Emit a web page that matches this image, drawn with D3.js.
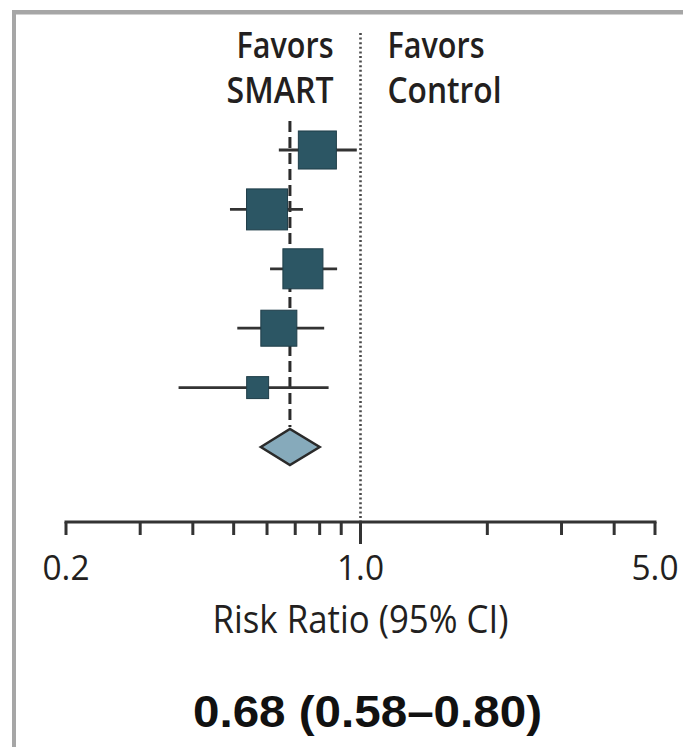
<!DOCTYPE html>
<html>
<head>
<meta charset="utf-8">
<script src="https://cdn.jsdelivr.net/npm/d3@7"></script>
<style>
  html, body { margin: 0; padding: 0; background: #fff; }
  svg { display: block; }
</style>
</head>
<body>
<svg id="svg" width="683" height="747"></svg>
<script>
// per-study risk ratios with 95% CI, and pooled estimate
const estimates = [0.79, 0.60, 0.73, 0.64, 0.57];
const lowerCI = [0.64, 0.49, 0.61, 0.51, 0.37];
const upperCI = [0.98, 0.73, 0.88, 0.82, 0.84];
const weights = [22.2, 25.8, 24.6, 19.9, 7.4];
const pooled = [0.68, 0.58, 0.80];
const tickValues = [0.2, 0.3, 0.4, 0.5, 0.6, 0.7, 0.8, 0.9, 1, 2, 3, 4, 5];
const tickLabels = ['0.2', '1.0', '5.0'];
const sideLabels = [['Favors', 'SMART'], ['Favors', 'Control']];

const svg = d3.select('#svg');
const font = "'Open Sans', 'DejaVu Sans', sans-serif";
const textColor = '#231f20';

// frame (grey border on top and left only)
svg.append('line').attr('x1', 12).attr('x2', 683).attr('y1', 12.3).attr('y2', 12.3).
  attr('stroke', '#a6a6a6').attr('stroke-width', 4.5);
svg.append('line').attr('x1', 14).attr('x2', 14).attr('y1', 10).attr('y2', 747).
  attr('stroke', '#a6a6a6').attr('stroke-width', 4);

const x = d3.scaleLog().domain([0.2, 5]).range([66, 655]);
const rows = d3.scalePoint().domain(d3.range(estimates.length + 1)).range([150, 447]);
const size = d3.scaleSqrt().domain([0, d3.max(weights)]).range([0, 41]);
const axisY = 522;

// null line at 1.0
svg.append('line').
  attr('x1', x(1)).attr('x2', x(1)).attr('y1', 33).attr('y2', axisY).
  attr('stroke', '#4a4a4a').attr('stroke-width', 2.6).attr('stroke-dasharray', '2,2.6');

// pooled estimate dashed line
svg.append('line').
  attr('x1', x(pooled[0])).attr('x2', x(pooled[0])).
  attr('y1', 121).attr('y2', rows(estimates.length) - 20).
  attr('stroke', '#2b2b2b').attr('stroke-width', 3).attr('stroke-dasharray', '11,5');

// confidence intervals
svg.selectAll('line.ci').
  data(estimates).
  enter().
  append('line').
  attr('class', 'ci').
  attr('x1', (d, i) => x(lowerCI[i])).
  attr('x2', (d, i) => x(upperCI[i])).
  attr('y1', (d, i) => rows(i)).
  attr('y2', (d, i) => rows(i)).
  attr('stroke', '#333').
  attr('stroke-width', 2.8);

// study squares
svg.selectAll('rect.study').
  data(estimates).
  enter().
  append('rect').
  attr('class', 'study').
  attr('x', (d, i) => x(d) - size(weights[i]) / 2).
  attr('y', (d, i) => rows(i) - size(weights[i]) / 2).
  attr('width', (d, i) => size(weights[i])).
  attr('height', (d, i) => size(weights[i])).
  attr('fill', '#2c5664').
  attr('stroke', '#1f3d48').
  attr('stroke-width', 1);

// pooled diamond
const py = rows(estimates.length);
svg.append('path').
  attr('d', `M${x(pooled[1])},${py} L${x(pooled[0])},${py - 18} L${x(pooled[2])},${py} L${x(pooled[0])},${py + 18} Z`).
  attr('fill', '#86aabb').
  attr('stroke', '#2a2a2a').
  attr('stroke-width', 2.5).
  attr('stroke-linejoin', 'miter');

// axis
svg.append('line').
  attr('x1', x(0.2) - 1.5).attr('x2', x(5) + 1.5).attr('y1', axisY).attr('y2', axisY).
  attr('stroke', '#333').attr('stroke-width', 3);

svg.selectAll('line.tick').
  data(tickValues).
  enter().
  append('line').
  attr('class', 'tick').
  attr('x1', d => x(d)).attr('x2', d => x(d)).
  attr('y1', axisY).
  attr('y2', d => d === 1 ? axisY + 22 : axisY + 13).
  attr('stroke', '#333').
  attr('stroke-width', 3);

svg.selectAll('text.ticklabel').
  data(tickLabels).
  enter().
  append('text').
  attr('class', 'ticklabel').
  attr('x', d => x(+d)).
  attr('y', 580).
  attr('text-anchor', 'middle').
  attr('font-family', font).
  attr('font-size', 35).
  attr('fill', textColor).
  attr('textLength', 47).
  attr('lengthAdjust', 'spacingAndGlyphs').
  text(d => d);

svg.append('text').
  attr('x', x(1)).
  attr('y', 633).
  attr('text-anchor', 'middle').
  attr('font-family', font).
  attr('font-size', 39).
  attr('fill', textColor).
  attr('textLength', 296).
  attr('lengthAdjust', 'spacingAndGlyphs').
  text('Risk Ratio (95% CI)');

// favors labels
const sideWidths = [[97, 107], [97, 114]];
sideLabels.forEach((lines, s) => {
  lines.forEach((t, j) => {
    const w = sideWidths[s][j];
    svg.append('text').
      attr('x', s === 0 ? x(1) - 27 - w : x(1) + 27).
      attr('y', 58 + j * 45).
      attr('font-family', font).
      attr('font-weight', 600).
      attr('font-size', 36).
      attr('fill', textColor).
      attr('textLength', w).
      attr('lengthAdjust', 'spacingAndGlyphs').
      text(t);
  });
});

// pooled estimate text
svg.append('text').
  attr('x', 193).
  attr('y', 727).
  attr('font-family', "'Liberation Sans', Arial, sans-serif").
  attr('font-weight', 700).
  attr('font-size', 44).
  attr('fill', '#111').
  attr('textLength', 349).
  attr('lengthAdjust', 'spacingAndGlyphs').
  text(`${pooled[0].toFixed(2)} (${pooled[1].toFixed(2)}–${pooled[2].toFixed(2)})`);
</script>
</body>
</html>
